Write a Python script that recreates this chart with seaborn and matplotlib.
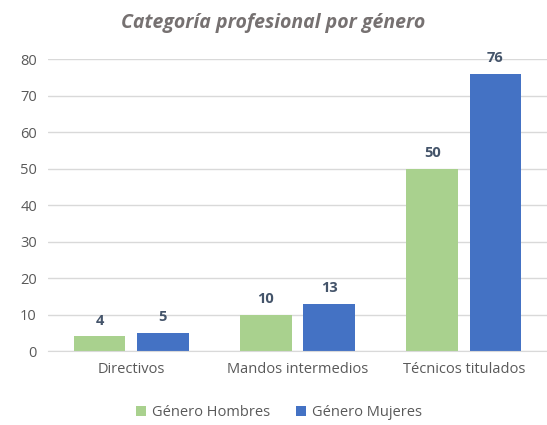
import matplotlib
matplotlib.use("Agg")
import matplotlib.pyplot as plt
import seaborn as sns
import pandas as pd

categorias = ["Directivos", "Mandos intermedios", "Técnicos titulados"]
hombres = [4, 10, 50]
mujeres = [5, 13, 76]
series = ["Género Hombres", "Género Mujeres"]
colores = ["#A9D18E", "#4472C4"]

df = pd.DataFrame({
    "categoria": categorias * 2,
    "valor": hombres + mujeres,
    "serie": [series[0]] * 3 + [series[1]] * 3,
})

sns.set_style("white")
plt.rcParams["font.family"] = ["Open Sans", "DejaVu Sans"]

fig = plt.figure(figsize=(5.47, 4.25), dpi=100)
ax = fig.add_axes([48 / 547, 0.174, 1 - 48 / 547, 0.861 - 0.174])

sns.barplot(data=df, x="categoria", y="valor", hue="serie", palette=colores,
            width=0.76, gap=0.18, ax=ax, legend=True, saturation=1,
            edgecolor="none", linewidth=0)

for cont in ax.containers:
    ax.bar_label(cont, padding=6, fontsize=10.5, fontweight="bold", color="#44546A")

ax.set_ylim(0, 80)
ax.set_xlim(-0.5, 2.5)
ax.set_yticks(range(0, 81, 10))
ax.yaxis.grid(True, color="#D9D9D9", linewidth=1)
ax.set_axisbelow(True)
for s in ["top", "right", "left"]:
    ax.spines[s].set_visible(False)
ax.spines["bottom"].set_color("#D9D9D9")
ax.tick_params(axis="both", length=0, labelsize=10.5, colors="#595959", pad=8)
ax.set_xlabel("")
ax.set_ylabel("")

fig.suptitle("Categoría profesional por género", x=0.5, y=0.97, fontsize=14,
             fontstyle="italic", fontweight="bold", color="#767171")

ax.legend(loc="upper center", bbox_to_anchor=(0.463, -0.14), ncol=2, frameon=False,
          fontsize=10.5, handlelength=0.7, handleheight=0.7, handletextpad=0.4,
          columnspacing=1.8, labelcolor="#595959")

fig.savefig("out.png", dpi=100)
